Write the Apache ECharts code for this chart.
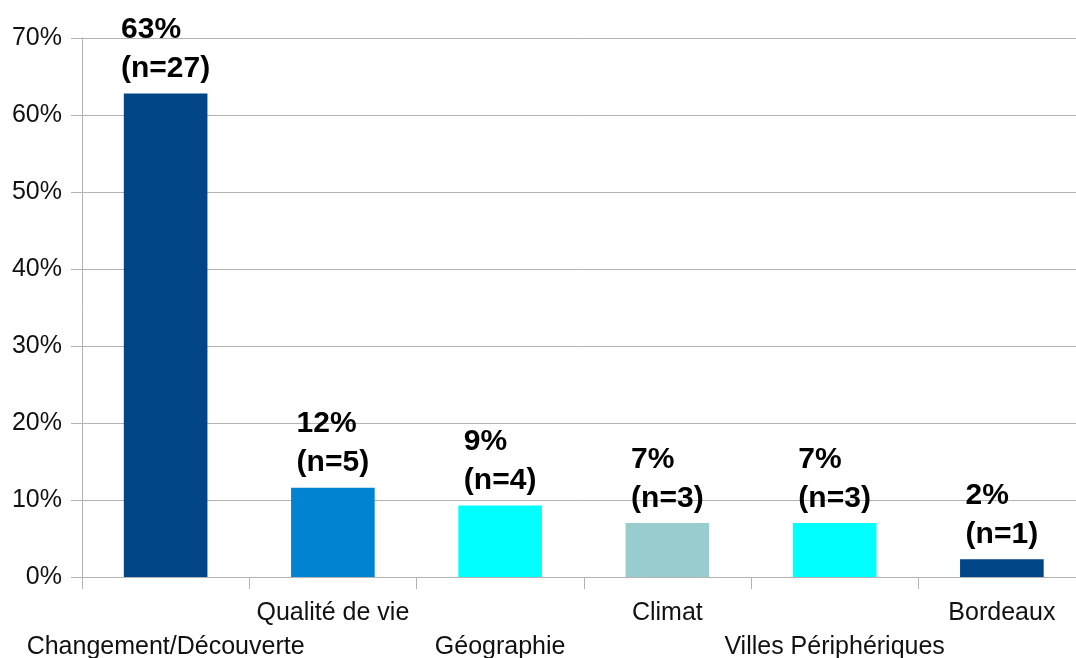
<!DOCTYPE html>
<html>
<head>
<meta charset="utf-8">
<script src="https://cdn.jsdelivr.net/npm/echarts@6/dist/echarts.min.js"></script>
<style>
  html, body { margin: 0; padding: 0; background: #fff; }
  #chart { width: 1076px; height: 658px; }
</style>
</head>
<body>
<div id="chart"></div>
<script>
var categories = ['Changement/Découverte', 'Qualité de vie', 'Géographie', 'Climat', 'Villes Périphériques', 'Bordeaux'];
var percents = [62.8, 11.6, 9.3, 7.0, 7.0, 2.3];
var counts = [27, 5, 4, 3, 3, 1];
var yTicks = [0, 10, 20, 30, 40, 50, 60, 70];

var barColors = ['#004586', '#0084d1', '#00ffff', '#99cccc', '#00ffff', '#004586'];
var font = "'Liberation Sans', Arial, sans-serif";

var myChart = echarts.init(document.getElementById('chart'));

var option = {
    animation: false,
    grid: {
        left: 82,
        right: -9.5,
        top: 38,
        bottom: 81,
        outerBoundsMode: 'none'
    },
    xAxis: {
        type: 'category',
        data: categories,
        axisLine: { lineStyle: { color: '#b3b3b3', width: 1 } },
        axisTick: { show: true, length: 12, lineStyle: { color: '#b3b3b3' } },
        axisLabel: {
            interval: 0,
            margin: 19,
            fontSize: 25,
            lineHeight: 34,
            color: '#111',
            fontFamily: font,
            formatter: function (value, index) {
                return index % 2 === 0 ? '\n' + value : value;
            }
        }
    },
    yAxis: {
        type: 'value',
        min: yTicks[0],
        max: yTicks[yTicks.length - 1],
        interval: 10,
        axisLine: { show: true, lineStyle: { color: '#b3b3b3', width: 1 } },
        axisTick: { show: true, length: 11, lineStyle: { color: '#b3b3b3' } },
        splitLine: { lineStyle: { color: '#b3b3b3', width: 1 } },
        axisLabel: {
            margin: 20,
            fontSize: 25,
            color: '#111',
            fontFamily: font,
            formatter: '{value}%'
        }
    },
    series: [
        {
            type: 'bar',
            data: percents,
            barCategoryGap: '50%',
            itemStyle: {
                color: function (p) { return barColors[p.dataIndex]; }
            },
            label: {
                show: true,
                position: 'top',
                distance: 5,
                formatter: function (p) {
                    return '{a|' + Math.round(p.value) + '%}\n{a|(n=' + counts[p.dataIndex] + ')}';
                },
                rich: {
                    a: {
                        fontSize: 30,
                        fontWeight: 'bold',
                        lineHeight: 39,
                        align: 'left',
                        color: '#000',
                        fontFamily: font
                    }
                }
            }
        }
    ]
};

myChart.setOption(option);

window.addEventListener("resize", function () {
    myChart.resize();
});
</script>
</body>
</html>
